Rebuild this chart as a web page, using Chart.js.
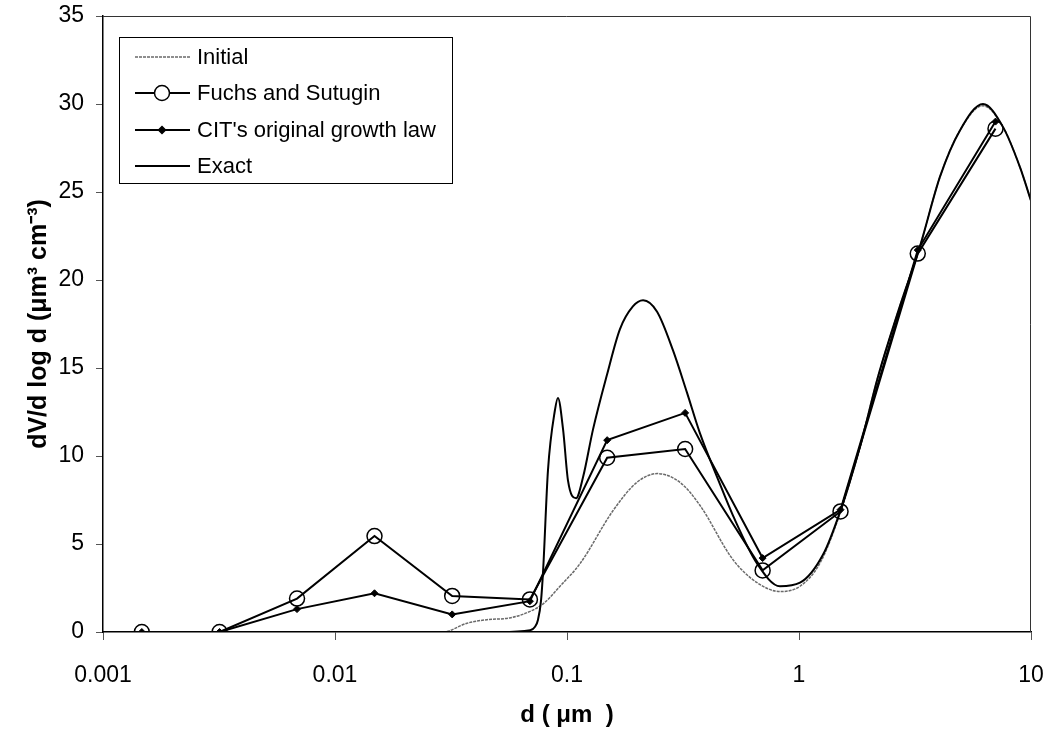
<!DOCTYPE html>
<html>
<head>
<meta charset="utf-8">
<script src="https://cdn.jsdelivr.net/npm/chart.js@4.4.1/dist/chart.umd.min.js"></script>
<style>
  html, body { margin: 0; padding: 0; background: #fff; }
  #wrap { width: 1048px; height: 730px; }
</style>
</head>
<body>
<div id="wrap"><canvas id="sizeChart" width="1048" height="730"></canvas></div>
<script>
// ===== data =====
const xTicks = [0.001, 0.01, 0.1, 1, 10];
const xTickLabels = ['0.001', '0.01', '0.1', '1', '10'];
const yTicks = [0, 5, 10, 15, 20, 25, 30, 35];

// sectional bin diameters (um)
const sizeBins = [0.00147, 0.00318, 0.00686, 0.0148, 0.0320, 0.0692, 0.149, 0.323, 0.697, 1.51, 3.25, 7.03];
const fuchsValues = [0, 0, 1.9, 5.45, 2.05, 1.85, 9.9, 10.4, 3.5, 6.85, 21.5, 28.6];
const citValues = [0, 0, 1.3, 2.2, 1.0, 1.75, 10.9, 12.45, 4.2, 6.95, 21.7, 29.0];

// initial distribution
const initialD = [0.001, 0.0292, 0.0371, 0.0452, 0.0567, 0.0673, 0.0789, 0.0933, 0.114, 0.158, 0.200, 0.245, 0.307, 0.374, 0.52, 0.66, 0.83, 1.01, 1.23, 1.50, 1.83, 2.19, 2.72, 3.32, 4.06, 4.94, 6.21, 7.57, 8.97, 10];
const initialValues = [0, 0, 0.5, 0.7, 0.8, 1.1, 1.6, 2.6, 3.9, 6.9, 8.5, 9.0, 8.5, 7.2, 4.1, 2.8, 2.3, 2.6, 3.9, 6.7, 10.5, 14.5, 18.5, 21.9, 25.9, 28.5, 29.9, 28.7, 26.4, 24.5];

// exact solution
const exactD = [0.001, 0.0514, 0.0694, 0.0728, 0.075, 0.0773, 0.0789, 0.0828, 0.0887, 0.0914, 0.0962, 0.101, 0.1094, 0.1173, 0.1294, 0.1486, 0.169, 0.1923, 0.2128, 0.2445, 0.2864, 0.329, 0.374, 0.45, 0.52, 0.659, 0.828, 1.01, 1.27, 1.50, 1.83, 2.19, 2.72, 3.32, 4.06, 4.94, 6.21, 7.57, 8.97, 10];
const exactValues = [0, 0, 0.1, 0.3, 0.7, 1.8, 3.5, 9.2, 12.6, 13.3, 11.5, 8.6, 7.6, 8.8, 11.5, 14.6, 17.2, 18.5, 18.85, 18.2, 16.0, 13.6, 11.3, 8.6, 6.6, 3.9, 2.6, 2.8, 4.4, 6.8, 10.5, 14.5, 18.5, 21.9, 25.9, 28.5, 30.0, 28.7, 26.4, 24.5];

const FONT = "'Liberation Sans', Arial, sans-serif";

function pts(xs, ys) {
  return xs.map((x, i) => ({ x: x, y: ys[i] }));
}

// plot frame + boxed legend drawn over the chart area
const framePlugin = {
  id: 'frameAndLegend',
  afterDraw(chart) {
    const ctx = chart.ctx;
    const a = chart.chartArea;
    ctx.save();
    ctx.strokeStyle = '#333';
    ctx.lineWidth = 1;
    ctx.beginPath();
    ctx.moveTo(a.left, a.top + 0.5);
    ctx.lineTo(a.right - 0.5, a.top + 0.5);
    ctx.lineTo(a.right - 0.5, a.bottom);
    ctx.stroke();

    // legend box
    const bx = 119.5, by = 37.5, bw = 333, bh = 146;
    ctx.fillStyle = '#fff';
    ctx.fillRect(bx, by, bw, bh);
    ctx.strokeStyle = '#000';
    ctx.strokeRect(bx, by, bw, bh);

    const rows = [57, 93, 130, 166];
    ctx.font = '22px ' + FONT;
    ctx.textBaseline = 'middle';
    chart.data.datasets.forEach((ds, i) => {
      const y = rows[i];
      ctx.save();
      ctx.strokeStyle = ds.borderColor;
      ctx.lineWidth = ds.borderWidth;
      ctx.setLineDash(ds.borderDash || []);
      ctx.beginPath();
      ctx.moveTo(135, y);
      ctx.lineTo(190, y);
      ctx.stroke();
      ctx.restore();
      if (ds.pointRadius > 0) {
        ctx.save();
        ctx.strokeStyle = '#000';
        ctx.fillStyle = ds.pointStyle === 'circle' ? '#fff' : '#000';
        ctx.lineWidth = 1.5;
        Chart.helpers.drawPoint(ctx, {
          pointStyle: ds.pointStyle,
          radius: ds.pointRadius,
          borderWidth: 1.5
        }, 162, y);
        ctx.restore();
      }
      ctx.fillStyle = '#000';
      ctx.fillText(ds.label, 197, y + 1);
    });
    ctx.restore();
  }
};

new Chart(document.getElementById('sizeChart').getContext('2d'), {
  type: 'scatter',
  data: {
    datasets: [
      {
        label: 'Initial',
        data: pts(initialD, initialValues),
        showLine: true,
        borderColor: '#6a6a6a',
        borderWidth: 1.5,
        borderDash: [3, 1],
        pointRadius: 0,
        cubicInterpolationMode: 'monotone',
        order: 3
      },
      {
        label: 'Fuchs and Sutugin',
        data: pts(sizeBins, fuchsValues),
        showLine: true,
        borderColor: '#000',
        borderWidth: 2,
        pointStyle: 'circle',
        pointRadius: 7.5,
        pointBorderWidth: 1.5,
        pointBorderColor: '#000',
        pointBackgroundColor: 'rgba(255,255,255,0)',
        order: 2
      },
      {
        label: "CIT's original growth law",
        data: pts(sizeBins, citValues),
        showLine: true,
        borderColor: '#000',
        borderWidth: 2,
        pointStyle: 'rectRot',
        pointRadius: 3.5,
        pointBorderWidth: 1,
        pointBorderColor: '#000',
        pointBackgroundColor: '#000',
        order: 1
      },
      {
        label: 'Exact',
        data: pts(exactD, exactValues),
        showLine: true,
        borderColor: '#000',
        borderWidth: 2,
        pointRadius: 0,
        cubicInterpolationMode: 'monotone',
        order: 0
      }
    ]
  },
  options: {
    responsive: false,
    animation: false,
    layout: { padding: { top: 16, right: 17, left: 0, bottom: 0 } },
    plugins: {
      legend: { display: false },
      tooltip: { enabled: false }
    },
    scales: {
      x: {
        type: 'logarithmic',
        min: 0.001,
        max: 10,
        afterBuildTicks: (scale) => { scale.ticks = xTicks.map(v => ({ value: v })); },
        afterFit: (scale) => {
          scale.height = 98;
          scale.paddingLeft = 0;
          scale.paddingRight = 0;
        },
        ticks: {
          callback: (v) => xTickLabels[xTicks.indexOf(v)],
          color: '#000',
          font: { family: FONT, size: 23 },
          padding: 22,
          maxRotation: 0,
          autoSkip: false
        },
        grid: { display: true, drawOnChartArea: false, tickLength: 8, color: '#555' },
        border: { display: true, color: '#000', width: 1.5 },
        title: {
          display: true,
          text: 'd ( μm  )',
          color: '#000',
          font: { family: FONT, size: 24, weight: 'bold' },
          padding: { top: 0, bottom: 0 }
        }
      },
      y: {
        min: 0,
        max: 35,
        afterBuildTicks: (scale) => { scale.ticks = yTicks.map(v => ({ value: v })); },
        afterFit: (scale) => {
          scale.width = 103;
          scale.paddingTop = 0;
          scale.paddingBottom = 0;
        },
        ticks: {
          color: '#000',
          font: { family: FONT, size: 23 },
          padding: 12
        },
        grid: { display: true, drawOnChartArea: false, tickLength: 7, color: '#555' },
        border: { display: true, color: '#000', width: 1.5 },
        title: {
          display: true,
          text: 'dV/d log d (μm³ cm⁻³)',
          color: '#000',
          font: { family: FONT, size: 25, weight: 'bold' },
          padding: { top: 24, bottom: 0 }
        }
      }
    }
  },
  plugins: [framePlugin]
});
</script>
</body>
</html>
